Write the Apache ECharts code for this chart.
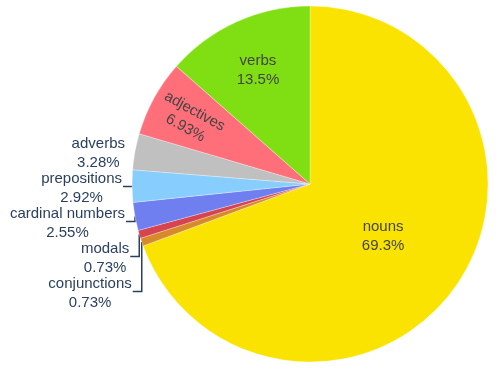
<!DOCTYPE html>
<html>
<head>
<meta charset="utf-8">
<script src="https://cdn.jsdelivr.net/npm/echarts@6/dist/echarts.min.js"></script>
<style>
html,body{margin:0;padding:0;background:#fff;}
#chart{width:498px;height:372px;}
</style>
</head>
<body>
<div id="chart"></div>
<script>
const categories = ['nouns', 'conjunctions', 'modals', 'cardinal numbers', 'prepositions', 'adverbs', 'adjectives', 'verbs'];
const values = [69.3, 0.73, 0.73, 2.55, 2.92, 3.28, 6.93, 13.5];
const percentLabels = ['69.3%', '0.73%', '0.73%', '2.55%', '2.92%', '3.28%', '6.93%', '13.5%'];
const colors = ['#fae300', '#d78a2c', '#d7434f', '#6f7ff0', '#87cdfe', '#c0c0c0', '#fe6f7a', '#80df12'];
const outsideItems = ['conjunctions', 'modals', 'cardinal numbers', 'prepositions', 'adverbs'];
const insideRadiusFrac = {'nouns': 0.5, 'adjectives': 0.77, 'verbs': 0.71};

const CX = 310, CY = 184, R = 178;
const total = values.reduce((a, b) => a + b, 0);
let cum = 0;
const midAngles = values.map(v => { const a = (cum + v / 2) / total * 2 * Math.PI; cum += v; return a; });
const edgePt = i => [CX + R * Math.sin(midAngles[i]), CY - R * Math.cos(midAngles[i])];

// stack outside labels from top downward (plotly-like)
const BLOCK = 35;
const TEXT_DY = 2;
const outIdx = categories.map((c, i) => i).filter(i => outsideItems.indexOf(categories[i]) >= 0);
const sorted = outIdx.slice().sort((a, b) => edgePt(a)[1] - edgePt(b)[1]);
const labelY = {};
let prev = -1e9;
sorted.forEach(i => { const y = Math.max(edgePt(i)[1], prev + BLOCK); labelY[i] = y; prev = y; });

const font = '"Liberation Sans", Arial, sans-serif';
const data = categories.map((c, i) => {
  const out = outsideItems.indexOf(c) >= 0;
  return {
    name: c,
    value: values[i],
    itemStyle: {color: colors[i]},
    label: out ? {position: 'outside', color: '#2a3f5f'} :
      {position: 'inside', color: '#444', rotate: c === 'adjectives' ? 'radial' : 0},
    labelLine: {show: out && c !== 'adverbs'}
  };
});

const chart = echarts.init(document.getElementById('chart'));
chart.setOption({
  animation: false,
  series: [{
    type: 'pie',
    center: [CX, CY],
    radius: [0, R],
    startAngle: 90,
    clockwise: true,
    avoidLabelOverlap: false,
    data: data,
    itemStyle: {borderColor: 'rgba(255,255,255,0.6)', borderWidth: 0.5},
    label: {
      show: true,
      fontFamily: font,
      fontSize: 15,
      lineHeight: 19,
      align: 'center',
      formatter: p => p.name + '\n' + percentLabels[p.dataIndex]
    },
    labelLine: {lineStyle: {color: '#2a3f5f', width: 1.5}},
    labelLayout: function (p) {
      const i = p.dataIndex;
      const c = categories[i];
      if (outsideItems.indexOf(c) >= 0) {
        const [px, py] = edgePt(i);
        const ly = labelY[i];
        const w = p.labelRect.width;
        return {
          x: px - 10 - w / 2,
          y: ly + TEXT_DY,
          align: 'center',
          verticalAlign: 'middle',
          labelLinePoints: [[px, py], [px, ly], [px - 9, ly]]
        };
      }
      const f = insideRadiusFrac[c];
      return {
        x: CX + f * R * Math.sin(midAngles[i]),
        y: CY - f * R * Math.cos(midAngles[i]) + TEXT_DY,
        align: 'center',
        verticalAlign: 'middle'
      };
    }
  }]
});
</script>
</body>
</html>
